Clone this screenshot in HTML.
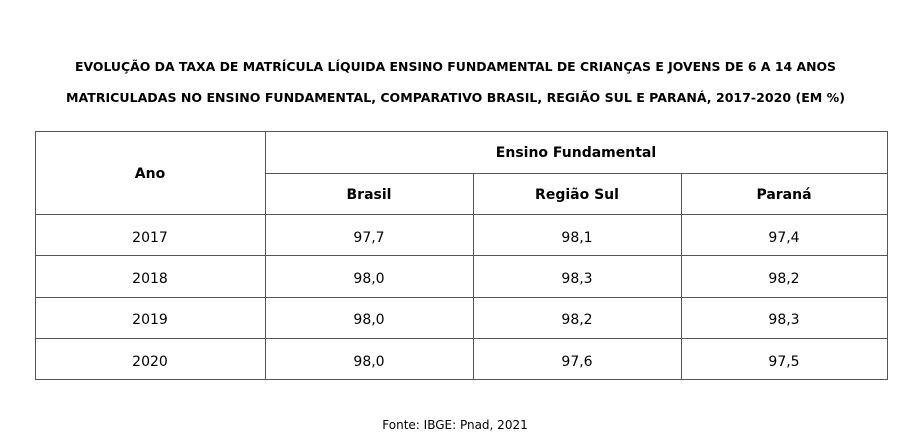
<!DOCTYPE html>
<html><head><meta charset="utf-8"><style>
html,body{margin:0;padding:0;background:#fff;width:911px;height:441px;overflow:hidden}
svg{display:block}
text{font-family:"DejaVu Sans","Liberation Sans",sans-serif;fill:#000}
</style></head><body>
<svg width="911" height="441">
<text x="75" y="71" font-size="12.5" font-weight="bold" textLength="761" lengthAdjust="spacingAndGlyphs">EVOLUÇÃO DA TAXA DE MATRÍCULA LÍQUIDA ENSINO FUNDAMENTAL DE CRIANÇAS E JOVENS DE 6 A 14 ANOS</text>
<text x="66" y="102" font-size="12.5" font-weight="bold" textLength="779" lengthAdjust="spacingAndGlyphs">MATRICULADAS NO ENSINO FUNDAMENTAL, COMPARATIVO BRASIL, REGIÃO SUL E PARANÁ, 2017-2020 (EM %)</text>
<g id="grid" stroke="#555" stroke-width="1" fill="none">
<rect x="35.5" y="131.5" width="852" height="248"/>
<line x1="265.5" y1="131.5" x2="265.5" y2="379.5"/>
<line x1="265.5" y1="173.5" x2="887.5" y2="173.5"/>
<line x1="473.5" y1="173.5" x2="473.5" y2="379.5"/>
<line x1="681.5" y1="173.5" x2="681.5" y2="379.5"/>
<line x1="35.5" y1="214.5" x2="887.5" y2="214.5"/>
<line x1="35.5" y1="255.5" x2="887.5" y2="255.5"/>
<line x1="35.5" y1="297.5" x2="887.5" y2="297.5"/>
<line x1="35.5" y1="338.5" x2="887.5" y2="338.5"/>
</g>
<g font-size="14" font-weight="bold" text-anchor="middle">
<text x="150" y="178">Ano</text>
<text x="576" y="157">Ensino Fundamental</text>
<text x="369" y="199">Brasil</text>
<text x="577" y="199">Região Sul</text>
<text x="784" y="199">Paraná</text>
</g>
<g id="body" font-size="14" text-anchor="middle"></g>
<text x="455" y="429" font-size="12" text-anchor="middle">Fonte: IBGE: Pnad, 2021</text>
</svg>
<script>
const years=["2017","2018","2019","2020"];
const brasil=["97,7","98,0","98,0","98,0"];
const sul=["98,1","98,3","98,2","97,6"];
const parana=["97,4","98,2","98,3","97,5"];
const g=document.getElementById('body');
const ys=[242,283,324,366];
const cols=[[150,years],[369,brasil],[577,sul],[784,parana]];
const names=['year','brasil','regiao-sul','parana'];
years.forEach((_,i)=>{cols.forEach((c,j)=>{
const t=document.createElementNS('http://www.w3.org/2000/svg','text');
t.setAttribute('x',c[0]);t.setAttribute('y',ys[i]);t.textContent=c[1][i];


g.appendChild(t);});});
</script>
</body></html>
